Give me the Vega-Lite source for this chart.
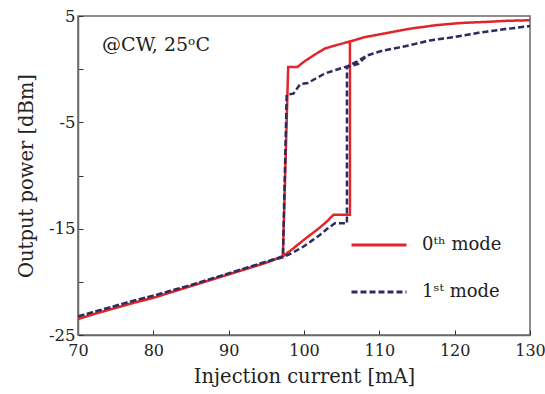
{
  "$schema": "https://vega.github.io/schema/vega-lite/v6.json",
  "width": 452,
  "height": 319,
  "autosize": {"type": "none"},
  "padding": {"left": 78, "top": 16, "right": 15, "bottom": 59},
  "background": "white",
  "config": {
    "font": "DejaVu Serif",
    "view": {"stroke": "#6a6a6a", "strokeWidth": 1.5},
    "axis": {"grid": false, "labelFlush": false, "domainColor": "#6a6a6a", "domainWidth": 1.5, "tickColor": "#333", "tickSize": -5, "labelFont": "DejaVu Serif", "titleFont": "DejaVu Serif", "labelColor": "#222", "titleColor": "#222", "labelFontSize": 16.5, "titleFontSize": 19.5, "titleFontWeight": "normal"}
  },
  "data": {"values": [
    {"mode": "0ᵗʰ mode", "i": 1, "x": 70, "y": -23.5},
    {"mode": "0ᵗʰ mode", "i": 2, "x": 72.5, "y": -22.95},
    {"mode": "0ᵗʰ mode", "i": 3, "x": 75, "y": -22.45},
    {"mode": "0ᵗʰ mode", "i": 4, "x": 77.5, "y": -21.95},
    {"mode": "0ᵗʰ mode", "i": 5, "x": 80, "y": -21.5},
    {"mode": "0ᵗʰ mode", "i": 6, "x": 82.5, "y": -20.95},
    {"mode": "0ᵗʰ mode", "i": 7, "x": 85, "y": -20.4},
    {"mode": "0ᵗʰ mode", "i": 8, "x": 87.5, "y": -19.85},
    {"mode": "0ᵗʰ mode", "i": 9, "x": 90, "y": -19.3},
    {"mode": "0ᵗʰ mode", "i": 10, "x": 92.5, "y": -18.75},
    {"mode": "0ᵗʰ mode", "i": 11, "x": 95, "y": -18.2},
    {"mode": "0ᵗʰ mode", "i": 12, "x": 97.2, "y": -17.6},
    {"mode": "0ᵗʰ mode", "i": 13, "x": 97.9, "y": 0.2},
    {"mode": "0ᵗʰ mode", "i": 14, "x": 99.1, "y": 0.2},
    {"mode": "0ᵗʰ mode", "i": 15, "x": 100.1, "y": 0.75},
    {"mode": "0ᵗʰ mode", "i": 16, "x": 101.5, "y": 1.4},
    {"mode": "0ᵗʰ mode", "i": 17, "x": 102.8, "y": 1.95},
    {"mode": "0ᵗʰ mode", "i": 18, "x": 104.5, "y": 2.3},
    {"mode": "0ᵗʰ mode", "i": 19, "x": 106.1, "y": 2.6},
    {"mode": "0ᵗʰ mode", "i": 20, "x": 108, "y": 3.0},
    {"mode": "0ᵗʰ mode", "i": 21, "x": 111, "y": 3.4},
    {"mode": "0ᵗʰ mode", "i": 22, "x": 114, "y": 3.8},
    {"mode": "0ᵗʰ mode", "i": 23, "x": 117.7, "y": 4.15},
    {"mode": "0ᵗʰ mode", "i": 24, "x": 121, "y": 4.35},
    {"mode": "0ᵗʰ mode", "i": 25, "x": 124.3, "y": 4.45},
    {"mode": "0ᵗʰ mode", "i": 26, "x": 127, "y": 4.55},
    {"mode": "0ᵗʰ mode", "i": 27, "x": 130, "y": 4.6},
    {"mode": "0ᵗʰ mode", "i": 28, "x": 127, "y": 4.55},
    {"mode": "0ᵗʰ mode", "i": 29, "x": 124.3, "y": 4.45},
    {"mode": "0ᵗʰ mode", "i": 30, "x": 121, "y": 4.35},
    {"mode": "0ᵗʰ mode", "i": 31, "x": 117.7, "y": 4.15},
    {"mode": "0ᵗʰ mode", "i": 32, "x": 114, "y": 3.8},
    {"mode": "0ᵗʰ mode", "i": 33, "x": 111, "y": 3.4},
    {"mode": "0ᵗʰ mode", "i": 34, "x": 108, "y": 3.0},
    {"mode": "0ᵗʰ mode", "i": 35, "x": 106.1, "y": 2.6},
    {"mode": "0ᵗʰ mode", "i": 36, "x": 106.1, "y": -13.7},
    {"mode": "0ᵗʰ mode", "i": 37, "x": 103.9, "y": -13.7},
    {"mode": "0ᵗʰ mode", "i": 38, "x": 103, "y": -14.35},
    {"mode": "0ᵗʰ mode", "i": 39, "x": 102.1, "y": -14.9},
    {"mode": "0ᵗʰ mode", "i": 40, "x": 101, "y": -15.5},
    {"mode": "0ᵗʰ mode", "i": 41, "x": 99.9, "y": -16.1},
    {"mode": "0ᵗʰ mode", "i": 42, "x": 98.5, "y": -16.9},
    {"mode": "0ᵗʰ mode", "i": 43, "x": 97.2, "y": -17.6},
    {"mode": "0ᵗʰ mode", "i": 44, "x": 95, "y": -18.2},
    {"mode": "0ᵗʰ mode", "i": 45, "x": 92.5, "y": -18.75},
    {"mode": "0ᵗʰ mode", "i": 46, "x": 90, "y": -19.3},
    {"mode": "0ᵗʰ mode", "i": 47, "x": 87.5, "y": -19.85},
    {"mode": "0ᵗʰ mode", "i": 48, "x": 85, "y": -20.4},
    {"mode": "0ᵗʰ mode", "i": 49, "x": 82.5, "y": -20.95},
    {"mode": "0ᵗʰ mode", "i": 50, "x": 80, "y": -21.5},
    {"mode": "0ᵗʰ mode", "i": 51, "x": 77.5, "y": -21.95},
    {"mode": "0ᵗʰ mode", "i": 52, "x": 75, "y": -22.45},
    {"mode": "0ᵗʰ mode", "i": 53, "x": 72.5, "y": -22.95},
    {"mode": "0ᵗʰ mode", "i": 54, "x": 70, "y": -23.5},
    {"mode": "1ˢᵗ mode", "i": 1, "x": 70, "y": -23.25},
    {"mode": "1ˢᵗ mode", "i": 2, "x": 72.5, "y": -22.75},
    {"mode": "1ˢᵗ mode", "i": 3, "x": 75, "y": -22.25},
    {"mode": "1ˢᵗ mode", "i": 4, "x": 77.5, "y": -21.75},
    {"mode": "1ˢᵗ mode", "i": 5, "x": 80, "y": -21.3},
    {"mode": "1ˢᵗ mode", "i": 6, "x": 82.5, "y": -20.8},
    {"mode": "1ˢᵗ mode", "i": 7, "x": 85, "y": -20.3},
    {"mode": "1ˢᵗ mode", "i": 8, "x": 87.5, "y": -19.75},
    {"mode": "1ˢᵗ mode", "i": 9, "x": 90, "y": -19.2},
    {"mode": "1ˢᵗ mode", "i": 10, "x": 92.5, "y": -18.65},
    {"mode": "1ˢᵗ mode", "i": 11, "x": 95, "y": -18.1},
    {"mode": "1ˢᵗ mode", "i": 12, "x": 97.2, "y": -17.6},
    {"mode": "1ˢᵗ mode", "i": 13, "x": 97.7, "y": -2.4},
    {"mode": "1ˢᵗ mode", "i": 14, "x": 98.6, "y": -2.3},
    {"mode": "1ˢᵗ mode", "i": 15, "x": 99.5, "y": -1.4},
    {"mode": "1ˢᵗ mode", "i": 16, "x": 100.5, "y": -1.3},
    {"mode": "1ˢᵗ mode", "i": 17, "x": 101.5, "y": -0.9},
    {"mode": "1ˢᵗ mode", "i": 18, "x": 102.8, "y": -0.4},
    {"mode": "1ˢᵗ mode", "i": 19, "x": 104.3, "y": -0.05},
    {"mode": "1ˢᵗ mode", "i": 20, "x": 105.7, "y": 0.25},
    {"mode": "1ˢᵗ mode", "i": 21, "x": 107, "y": 0.7},
    {"mode": "1ˢᵗ mode", "i": 22, "x": 108.4, "y": 1.3},
    {"mode": "1ˢᵗ mode", "i": 23, "x": 110.5, "y": 1.75},
    {"mode": "1ˢᵗ mode", "i": 24, "x": 113.1, "y": 2.1},
    {"mode": "1ˢᵗ mode", "i": 25, "x": 116.7, "y": 2.7},
    {"mode": "1ˢᵗ mode", "i": 26, "x": 119.8, "y": 3.0},
    {"mode": "1ˢᵗ mode", "i": 27, "x": 123, "y": 3.4},
    {"mode": "1ˢᵗ mode", "i": 28, "x": 126.5, "y": 3.75},
    {"mode": "1ˢᵗ mode", "i": 29, "x": 130, "y": 4.05},
    {"mode": "1ˢᵗ mode", "i": 30, "x": 126.5, "y": 3.75},
    {"mode": "1ˢᵗ mode", "i": 31, "x": 123, "y": 3.4},
    {"mode": "1ˢᵗ mode", "i": 32, "x": 119.8, "y": 3.0},
    {"mode": "1ˢᵗ mode", "i": 33, "x": 116.7, "y": 2.7},
    {"mode": "1ˢᵗ mode", "i": 34, "x": 113.1, "y": 2.1},
    {"mode": "1ˢᵗ mode", "i": 35, "x": 110.5, "y": 1.75},
    {"mode": "1ˢᵗ mode", "i": 36, "x": 108.4, "y": 1.3},
    {"mode": "1ˢᵗ mode", "i": 37, "x": 107.2, "y": 0.5},
    {"mode": "1ˢᵗ mode", "i": 38, "x": 105.7, "y": 0.2},
    {"mode": "1ˢᵗ mode", "i": 39, "x": 105.7, "y": -14.5},
    {"mode": "1ˢᵗ mode", "i": 40, "x": 104.1, "y": -14.5},
    {"mode": "1ˢᵗ mode", "i": 41, "x": 103, "y": -15.05},
    {"mode": "1ˢᵗ mode", "i": 42, "x": 102.1, "y": -15.6},
    {"mode": "1ˢᵗ mode", "i": 43, "x": 101, "y": -16.15},
    {"mode": "1ˢᵗ mode", "i": 44, "x": 99.9, "y": -16.7},
    {"mode": "1ˢᵗ mode", "i": 45, "x": 98.5, "y": -17.25},
    {"mode": "1ˢᵗ mode", "i": 46, "x": 97.2, "y": -17.7},
    {"mode": "1ˢᵗ mode", "i": 47, "x": 95, "y": -18.1},
    {"mode": "1ˢᵗ mode", "i": 48, "x": 92.5, "y": -18.65},
    {"mode": "1ˢᵗ mode", "i": 49, "x": 90, "y": -19.2},
    {"mode": "1ˢᵗ mode", "i": 50, "x": 87.5, "y": -19.75},
    {"mode": "1ˢᵗ mode", "i": 51, "x": 85, "y": -20.3},
    {"mode": "1ˢᵗ mode", "i": 52, "x": 82.5, "y": -20.8},
    {"mode": "1ˢᵗ mode", "i": 53, "x": 80, "y": -21.3},
    {"mode": "1ˢᵗ mode", "i": 54, "x": 77.5, "y": -21.75},
    {"mode": "1ˢᵗ mode", "i": 55, "x": 75, "y": -22.25},
    {"mode": "1ˢᵗ mode", "i": 56, "x": 72.5, "y": -22.75},
    {"mode": "1ˢᵗ mode", "i": 57, "x": 70, "y": -23.25}
  ]},
  "layer": [
    {
      "mark": {"type": "line", "strokeWidth": 2.5, "clip": true},
      "encoding": {
        "x": {"field": "x", "type": "quantitative", "scale": {"domain": [70, 130], "nice": false, "zero": false},
          "axis": {"title": "Injection current [mA]", "values": [70, 80, 90, 100, 110, 120, 130], "labelFontSize": 16, "labelPadding": 12, "titlePadding": 9}},
        "y": {"field": "y", "type": "quantitative", "scale": {"domain": [-25, 5], "nice": false, "zero": false},
          "axis": {"title": "Output power [dBm]", "values": [-25, -20, -15, -10, -5, 0, 5], "labelExpr": "abs(datum.value % 10) == 5 ? '' + datum.value : ''", "labelPadding": 8, "titlePadding": 12}},
        "order": {"field": "i", "type": "quantitative"},
        "color": {"field": "mode", "type": "nominal", "scale": {"domain": ["0ᵗʰ mode", "1ˢᵗ mode"], "range": ["#e0252b", "#2b2d5e"]},
          "legend": {"title": null, "orient": "none", "legendX": 272, "legendY": 200, "symbolType": "stroke", "symbolSize": 3025, "symbolStrokeWidth": 3, "labelFontSize": 18, "labelFont": "DejaVu Serif", "labelColor": "#222", "labelOffset": 14, "rowPadding": 9,
            "encode": {"symbols": {"update": {"strokeDash": {"signal": "datum.value == '1ˢᵗ mode' ? [3, 2] : [1, 0]"}}}}}},
        "strokeDash": {"field": "mode", "type": "nominal", "scale": {"domain": ["0ᵗʰ mode", "1ˢᵗ mode"], "range": [[1, 0], [6, 3]]}, "legend": null}
      }
    },
    {
      "data": {"values": [{"label": "@CW, 25ᵒC", "x": 73.2, "y": 2.3}]},
      "mark": {"type": "text", "align": "left", "baseline": "middle", "fontSize": 19, "font": "DejaVu Serif", "color": "#222"},
      "encoding": {
        "x": {"field": "x", "type": "quantitative"},
        "y": {"field": "y", "type": "quantitative"},
        "text": {"field": "label"}
      }
    }
  ]
}
